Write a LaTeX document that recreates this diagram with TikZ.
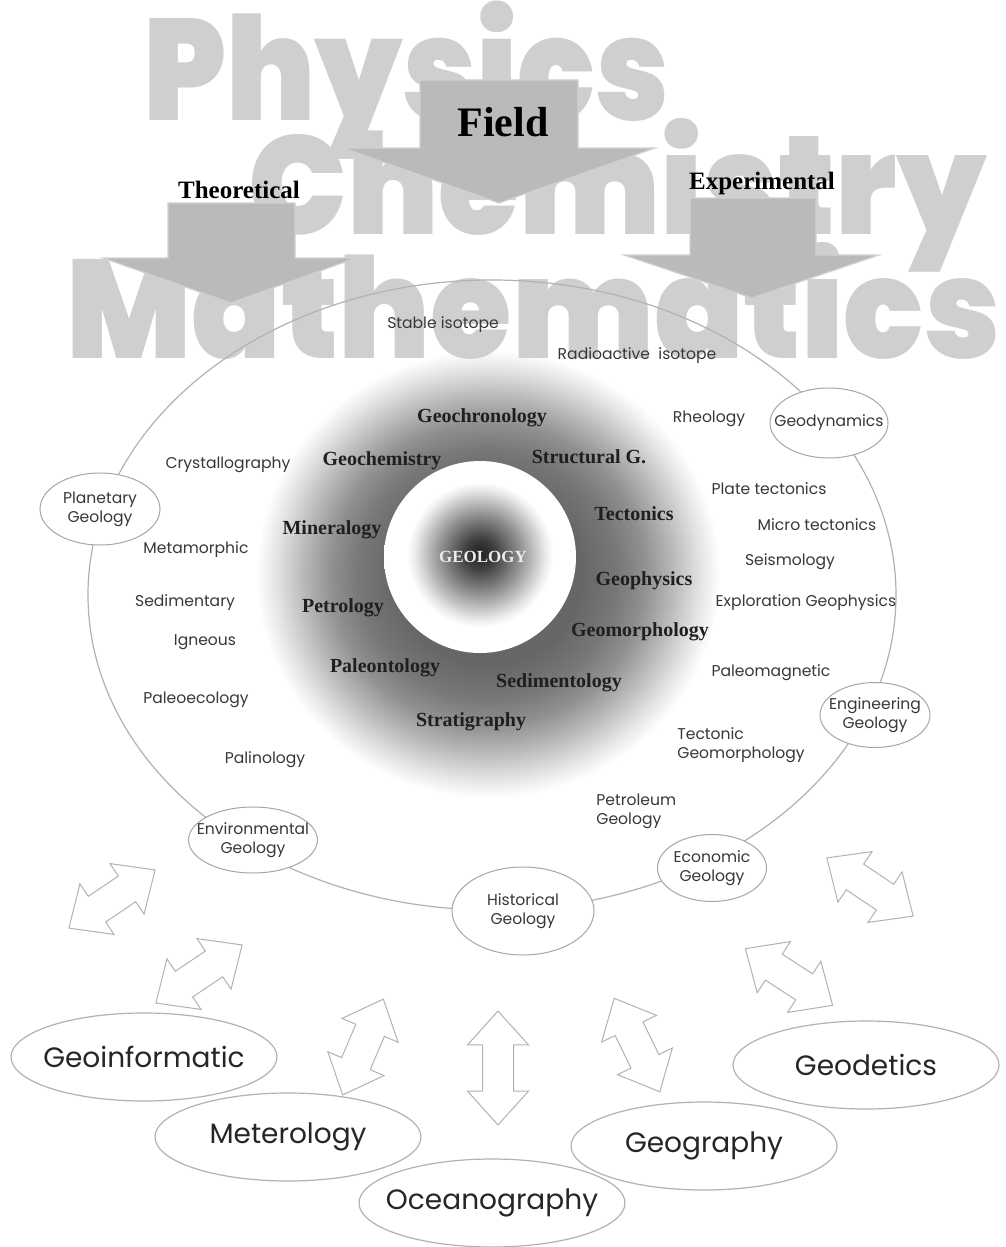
\documentclass[tikz,border=0pt]{standalone}
\usepackage{fontspec}
\setmainfont{Liberation Serif}
\setsansfont{Poppins}
\newfontfamily\heavyfont{Poppins Black}
\usetikzlibrary{shapes.geometric,shapes.arrows}

\pgfdeclareradialshading{halo}{\pgfpoint{0bp}{0bp}}{color(0bp)=(black!60);
  color(10bp)=(black!60); color(14bp)=(black!53); color(17bp)=(black!43);
  color(20bp)=(black!27); color(23bp)=(black!10); color(25bp)=(white); color(50bp)=(white)}
\pgfdeclareradialshading{core}{\pgfpoint{0bp}{1bp}}{color(0bp)=(black!88);
  color(4bp)=(black!75); color(11bp)=(black!40); color(17bp)=(black!8);
  color(19bp)=(white); color(50bp)=(white)}

\begin{document}
\begin{tikzpicture}[x=0.5pt,y=-0.5pt,
  bigword/.style={anchor=base west,inner sep=0pt,text=black!19,
    font=\heavyfont\fontsize{70}{70}\selectfont},
  bigarrow/.style={fill=black!27,draw=black!18,line width=0.6pt},
  mode/.style={font=\bfseries\fontsize{12.5}{14}\selectfont},
  subject/.style={font=\bfseries\fontsize{10}{12}\selectfont,text=black!88,inner sep=1pt},
  topic/.style={font=\sffamily\fontsize{7.8}{9.4}\selectfont,text=black!78,inner sep=1pt,align=left},
  btext/.style={font=\sffamily\fontsize{7.8}{9.4}\selectfont,text=black!78,align=center,inner sep=0pt},
  branch/.style={ellipse,draw=black!35,line width=0.5pt,fill=white,inner sep=0pt,
    label={[btext]center:#1}},
  ring/.style={draw=black!30,line width=0.6pt},
  link/.style={double arrow,draw=black!30,line width=0.5pt,fill=white,inner xsep=0pt,
    inner ysep=7.5pt,minimum width=1pt,minimum height=52pt,
    double arrow head extend=7.5pt,double arrow tip angle=84},
  stext/.style={font=\sffamily\fontsize{14}{16}\selectfont,text=black!85,inner sep=0pt},
  science/.style={ellipse,draw=black!30,line width=0.6pt,fill=white,inner sep=0pt,
    minimum width=133pt,minimum height=44pt,label={[stext]center:#1}}
]
  \path[use as bounding box,fill=white] (0,0) rectangle (1006,1247);

  \shade[shading=halo] (488,574) ellipse [x radius=232,y radius=224];
  \shade[shading=core] (480,557) circle (96);

  \node[bigword] (physics) at (143,120) {\scalebox{0.915}[1.03]{Physics}};
  \node[bigword] (chemistry) at (248,234) {\scalebox{0.937}[1]{Chemistry}};
  \node[bigword] (maths) at (66,358) {\scalebox{0.942}[1]{Mathematics}};

  \draw[bigarrow] (420,80) -- (578,80) -- (578,148) -- (655,148) -- (499,203)
    -- (343,148) -- (420,148) -- cycle;
  \draw[bigarrow] (168,203) -- (295,203) -- (295,258) -- (356,258) -- (231,303)
    -- (103,258) -- (168,258) -- cycle;
  \draw[bigarrow] (690,198) -- (816,198) -- (816,255) -- (879,255) -- (752,298)
    -- (624,255) -- (690,255) -- cycle;
  \node[font=\bfseries\fontsize{21}{24}\selectfont] (field) at (503,122) {Field};
  \node[mode] (theory) at (239,190) {Theoretical};
  \node[mode] (experiment) at (762,183) {Experimental};

  \draw[ring] (492,595) ellipse [x radius=404,y radius=315];

  \node[branch={Geodynamics},minimum width=59pt,minimum height=35pt] (dynamics) at (829,423) {};
  \node[branch={Planetary\\Geology},minimum width=60pt,minimum height=36pt] (planetary) at (100,509) {};
  \node[branch={Engineering\\Geology},minimum width=55pt,minimum height=32.5pt] (engineering) at (875,715) {};
  \node[branch={Environmental\\Geology},minimum width=64.5pt,minimum height=33pt] (environment) at (253,840) {};
  \node[branch={Historical\\Geology},minimum width=71pt,minimum height=44pt] (historical) at (523,911) {};
  \node[branch={Economic\\Geology},minimum width=54.5pt,minimum height=33.5pt] (economic) at (712,868) {};

  \node[topic] (stable) at (443,325) {Stable isotope};
  \node[topic] (radio) at (637,356) {Radioactive~ isotope};
  \node[topic] (rheology) at (709,419) {Rheology};
  \node[topic] (crystal) at (228,465) {Crystallography};
  \node[topic] (plate) at (769,489) {Plate tectonics};
  \node[topic] (micro) at (817,525) {Micro tectonics};
  \node[topic] (metamorphic) at (196,550) {Metamorphic};
  \node[topic] (seismology) at (790,562) {Seismology};
  \node[topic] (sedimentary) at (185,603) {Sedimentary};
  \node[topic] (exploration) at (806,603) {Exploration Geophysics};
  \node[topic] (igneous) at (205,642) {Igneous};
  \node[topic] (paleomag) at (771,673) {Paleomagnetic};
  \node[topic] (paleoeco) at (196,700) {Paleoecology};
  \node[topic,anchor=west] (tectgeo) at (675,745) {Tectonic\\Geomorphology};
  \node[topic] (palinology) at (265,760) {Palinology};
  \node[topic,anchor=west] (petroleum) at (594,811) {Petroleum\\Geology};

  \node[subject] (chronology) at (482,418) {Geochronology};
  \node[subject] (chemistry2) at (382,461) {Geochemistry};
  \node[subject] (structural) at (589,457) {Structural G.};
  \node[subject] (mineralogy) at (332,530) {Mineralogy};
  \node[subject] (tectonics) at (634,514) {Tectonics};
  \node[subject] (geophysics) at (644,581) {Geophysics};
  \node[subject] (petrology) at (343,608) {Petrology};
  \node[subject] (morphology) at (640,632) {Geomorphology};
  \node[subject] (paleontology) at (385,668) {Paleontology};
  \node[subject] (sedimentology) at (559,683) {Sedimentology};
  \node[subject] (stratigraphy) at (471,722) {Stratigraphy};
  \node[subject,text=black!8,font=\bfseries\fontsize{8.5}{10}\selectfont] (geology) at (483,557) {GEOLOGY};

  \node[link,rotate=34] (link1) at (112,899) {};
  \node[link,rotate=34] (link2) at (199,974) {};
  \node[link,rotate=67] (link3) at (363,1047) {};
  \node[link,rotate=90,minimum height=57pt] (link4) at (498,1068) {};
  \node[link,rotate=116] (link5) at (637,1045) {};
  \node[link,rotate=147] (link6) at (789,977) {};
  \node[link,rotate=146] (link7) at (870,887) {};

  \node[science={Geoinformatic}] (geoinformatic) at (144,1057) {};
  \node[science={Geodetics}] (geodetics) at (866,1065) {};
  \node[science={Meterology}] (meterology) at (288,1137) {};
  \node[science={Geography}] (geography) at (704,1146) {};
  \node[science={Oceanography}] (oceanography) at (492,1203) {};
\end{tikzpicture}
\end{document}
